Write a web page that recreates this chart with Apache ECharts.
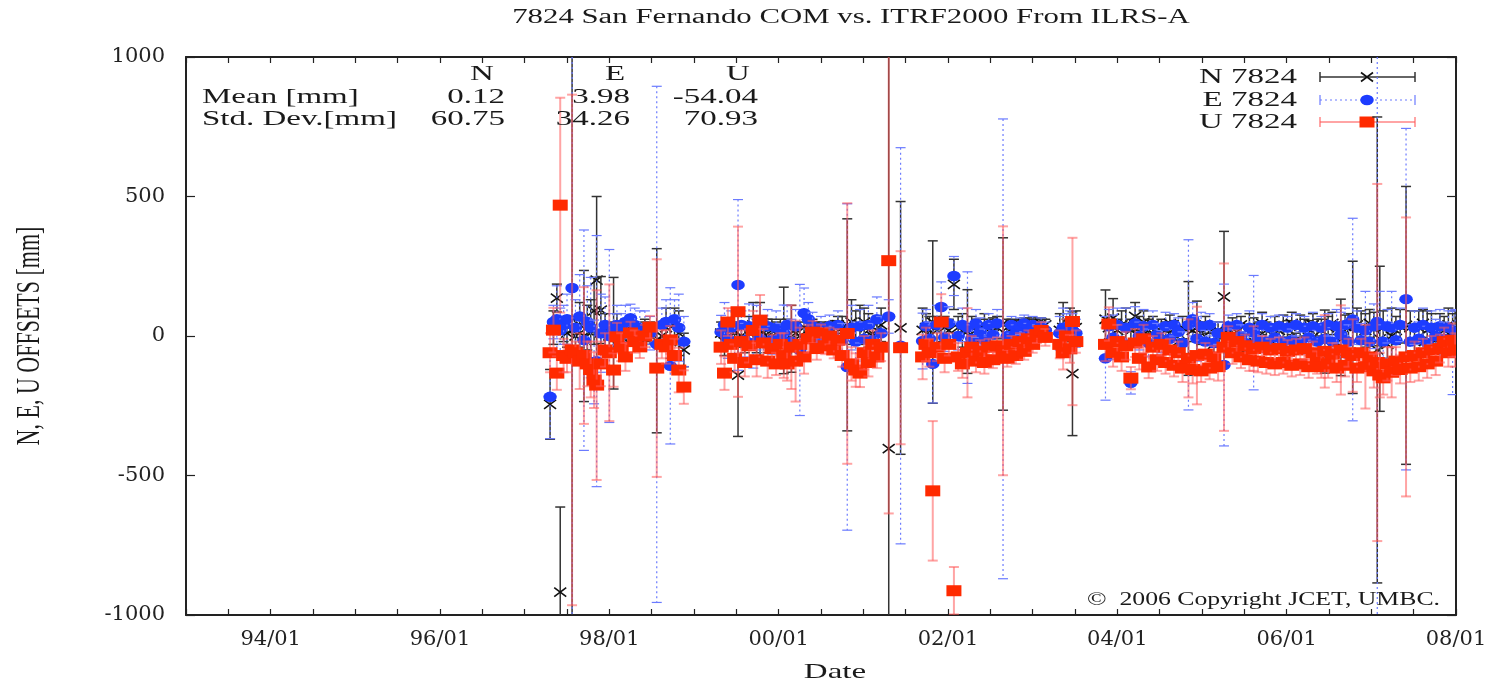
<!DOCTYPE html>
<html>
<head>
<meta charset="utf-8">
<title>7824 San Fernando COM vs. ITRF2000</title>
<script src="https://cdn.jsdelivr.net/npm/echarts@6/dist/echarts.min.js"></script>
<style>
  html, body { margin: 0; padding: 0; background: #ffffff; }
  #chart { width: 1495px; height: 683px; }
</style>
</head>
<body>
<div id="chart"></div>
<script>
// Epochs of the station solutions, in decimal years
const dates = [
  // 1997.3 - 1998.9
  1997.30, 1997.34, 1997.38, 1997.42, 1997.46, 1997.50, 1997.56, 1997.60, 1997.65, 1997.70,
  1997.74, 1997.78, 1997.82, 1997.85, 1997.90, 1997.95, 1998.00, 1998.05, 1998.09, 1998.14,
  1998.19, 1998.25, 1998.30, 1998.36, 1998.42, 1998.48, 1998.56, 1998.62, 1998.67, 1998.72,
  1998.77, 1998.82, 1998.88,
  // 1999.3 - 2001.4
  1999.32, 1999.36, 1999.40, 1999.44, 1999.48, 1999.52, 1999.56, 1999.60, 1999.65, 1999.70,
  1999.74, 1999.78, 1999.82, 1999.87, 1999.92, 1999.97, 2000.02, 2000.06, 2000.10, 2000.15,
  2000.20, 2000.25, 2000.30, 2000.35, 2000.40, 2000.45, 2000.50, 2000.55, 2000.60, 2000.65,
  2000.70, 2000.75, 2000.81, 2000.86, 2000.91, 2000.96, 2001.01, 2001.06, 2001.11, 2001.16,
  2001.21, 2001.30, 2001.44,
  // 2001.7 - 2003.2
  2001.70, 2001.74, 2001.78, 2001.82, 2001.87, 2001.92, 2001.96, 2002.01, 2002.07, 2002.12,
  2002.17, 2002.23, 2002.28, 2002.33, 2002.38, 2002.43, 2002.48, 2002.53, 2002.58, 2002.65,
  2002.70, 2002.75, 2002.80, 2002.85, 2002.90, 2002.95, 2003.00, 2003.05, 2003.10, 2003.15,
  // 2003.3 - 2003.5
  2003.32, 2003.36, 2003.40, 2003.44, 2003.47, 2003.51,
  // 2003.9 - 2008.0
  2003.86, 2003.90, 2003.95, 2004.00, 2004.05, 2004.10, 2004.16, 2004.21, 2004.26, 2004.31,
  2004.37, 2004.42, 2004.47, 2004.52, 2004.57, 2004.62, 2004.67, 2004.72, 2004.77, 2004.84,
  2004.89, 2004.94, 2004.99, 2005.04, 2005.09, 2005.14, 2005.19, 2005.26, 2005.31, 2005.36,
  2005.41, 2005.46, 2005.51, 2005.56, 2005.61, 2005.66, 2005.71, 2005.76, 2005.81, 2005.86,
  2005.91, 2005.96, 2006.01, 2006.06, 2006.11, 2006.16, 2006.21, 2006.26, 2006.31, 2006.36,
  2006.41, 2006.45, 2006.49, 2006.54, 2006.59, 2006.64, 2006.69, 2006.73, 2006.78, 2006.83,
  2006.88, 2006.93, 2006.98, 2007.03, 2007.07, 2007.10, 2007.14, 2007.19, 2007.24, 2007.29,
  2007.34, 2007.41, 2007.46, 2007.51, 2007.56, 2007.61, 2007.66, 2007.71, 2007.76, 2007.81,
  2007.86, 2007.91, 2007.96, 2007.99
];

// North offsets and their sigmas [mm]
const nVal = [
  -245, 30, 136, -918, 20, 10, 20, 0, 40, 0, 30, 10, 90, 200, 93, 20, 0, 10, 30, 0,
  20, 10, 0, 10, 20, 10, -17, 0, 30, -20, 40, 10, -50,
  10, -20, 0, 20, 10, -140, 0, -10, 10, 40, 0, 20, 10, 0, 20, 10, 20, 20, 0, -10,
  10, 0, 30, 20, 30, 20, 30, 25, 30, 35, 40, 30, 40, 50, 30, 40, 50, 20, 0, 20,
  40, -404, 29,
  20, 30, 10, 50, 20, 40, 30, 20, 185, 30, 20, 16, 30, 20, 30, 40, 30, 35, 30, 43,
  30, 40, 35, 40, 45, 40, 45, 40, 45, 40,
  20, 30, 10, 40, -135, 30,
  60, 30, 64, 20, 40, 40, 20, 70, 30, 50, 20, 40, -10, 30, 20, 45, 25, -20, 30, 27,
  20, 30, 10, 40, 15, -30, 20, 140, 10, 35, 15, 40, -25, 30, 25, 20, 45, 20, -15, 30,
  20, 35, 25, 45, -20, 35, 30, 25, 40, 30, 20, -20, 30, 45, -25, -5, 35, 30, 31, 40,
  30, 20, 45, 25, -50, -10, 30, -30, 0, 20, 35, 38, 30, -20, 30, 45, 20, 30, -15, 30,
  20, 40, 20, 30
];
const nErr = [
  125, 60, 50, 305, 40, 50, 1100, 60, 80, 235, 80, 120, 120, 300, 120, 60, 50, 200, 50, 40,
  40, 30, 30, 40, 40, 40, 330, 40, 70, 60, 60, 80, 60,
  40, 50, 40, 30, 40, 220, 40, 50, 60, 80, 60, 100, 50, 60, 40, 40, 40, 155, 60, 120,
  40, 50, 50, 40, 30, 30, 20, 20, 20, 20, 30, 40, 380, 80, 60, 70, 50, 60, 40, 50,
  60, 1500, 453,
  80, 50, 60, 291, 50, 60, 40, 40, 90, 40, 60, 150, 40, 40, 30, 40, 30, 30, 40, 309,
  30, 20, 20, 20, 20, 20, 20, 20, 20, 20,
  60, 90, 50, 60, 222, 60,
  105, 40, 70, 40, 50, 60, 40, 50, 40, 40, 40, 30, 30, 30, 30, 30, 30, 30, 40, 168,
  40, 95, 40, 30, 30, 40, 30, 235, 30, 30, 30, 30, 30, 50, 40, 30, 40, 30, 30, 40,
  30, 40, 30, 40, 30, 40, 30, 30, 40, 30, 40, 113, 40, 40, 50, 137, 40, 50, 237, 60,
  60, 60, 50, 60, 835, 260, 60, 50, 100, 50, 60, 498, 60, 50, 60, 50, 70, 50, 50, 50,
  50, 60, 60, 60
];

// East offsets and their sigmas [mm]
const eVal = [
  -218, 50, 60, 20, 40, 60, 172, 30, 70, -15, 50, 30, -93, -90, 10, 40, 0, 20, 40, 30,
  50, 64, 40, 20, 30, 10, -30, 40, 50, -107, 60, 30, -20,
  14, 40, -10, 30, -20, 183, 40, -15, 35, -25, 30, -10, -25, 35, -15, 30, -5, 11, 40, -20,
  35, -50, 82, 60, 35, -10, 30, 0, 35, -5, 40, -15, -111, 30, -20, 35, -10, 40, -15, 60,
  10, 70, -35,
  -18, 35, -10, -100, 40, 104, -5, 45, 215, 0, 40, 30, -10, 45, 15, -15, 40, 5, 45, -46,
  0, 40, 10, 35, 45, 15, 40, 10, 35, 20,
  10, 30, 20, 40, 20, 10,
  -80, 35, -5, 40, -20, 30, -168, 45, 0, 35, -25, 40, 5, -20, 35, -10, 40, 15, -25, 40,
  60, -10, 35, -20, 40, -25, 10, -104, 35, -15, 40, 0, -25, 30, 12, -15, 40, -20, 30, -5,
  35, -20, 30, -15, 40, -25, 30, -5, 35, -20, 30, -10, 40, -20, 35, 5, 40, -20, 59, 30,
  -15, 20, -20, 35, 50, 40, -20, 35, 30, -15, 40, 132, -20, 30, -10, 40, -25, 30, 0, 35,
  -10, 30, -60, 15
];
const eErr = [
  150, 60, 120, 80, 70, 90, 1200, 100, 150, 395, 130, 180, 150, 450, 140, 100, 310, 60, 70, 50,
  60, 50, 60, 70, 60, 60, 925, 60, 80, 280, 70, 120, 90,
  60, 80, 70, 60, 70, 306, 50, 60, 80, 90, 80, 80, 70, 60, 50, 60, 50, 100, 70, 80,
  60, 235, 90, 60, 50, 40, 40, 30, 40, 40, 50, 60, 585, 80, 70, 60, 60, 70, 60, 80,
  60, 60, 710,
  100, 60, 60, 140, 70, 90, 50, 60, 70, 50, 60, 200, 50, 50, 50, 40, 40, 40, 50, 824,
  40, 30, 30, 30, 30, 30, 30, 30, 30, 30,
  60, 70, 60, 50, 60, 50,
  150, 60, 80, 60, 60, 70, 40, 60, 50, 60, 50, 50, 40, 40, 50, 40, 40, 50, 40, 305,
  60, 80, 50, 40, 40, 40, 40, 290, 40, 40, 40, 40, 40, 60, 205, 40, 40, 40, 40, 40,
  40, 40, 40, 40, 40, 40, 40, 40, 50, 40, 40, 50, 40, 50, 60, 80, 60, 60, 363, 60,
  60, 140, 60, 80, 1200, 120, 60, 60, 130, 60, 60, 612, 60, 60, 60, 60, 60, 60, 60, 60,
  60, 60, 150, 80
];

// Up offsets and their sigmas [mm]
const uVal = [
  -60, 21, -133, 469, -70, -80, -50, -60, -90, -70, -100, -120, -158, -176, -100, -50, -60, -122, -3, -40,
  -75, 11, -20, -39, 0, 32, -115, -30, -39, -14, -70, -122, -183,
  -40, -133, 50, -30, -80, 87, -20, -95, -35, 20, -85, 57, -25, -90, -45, -100, -30, -70, -100, -40,
  -90, -30, -75, -10, 14, -45, 11, -35, 0, -50, -15, -70, 9, -100, -122, -133, -60, -95, -30, -75,
  -40, 270, -42,
  -75, -30, -60, -555, -40, 50, -80, -30, -913, -75, -100, -60, -40, -90, -55, -95, -40, -85, -35, -53,
  -80, -30, -70, -20, -55, -10, -30, 5, 20, -5,
  -30, -60, 0, -46, 52, -20,
  -30, 43, -60, -20, -75, -35, -151, -25, -80, -10, -111, -40, -85, -30, -95, -50, -105, -60, -115, -80,
  -120, -70, -125, -65, -115, -75, -110, -40, -5, -60, -20, -75, -35, -85, -45, -90, -40, -95, -50, -100,
  -45, -95, -55, -105, -50, -100, -45, -110, -60, -95, -110, -55, -100, -65, -115, -50, -105, -60, -70, -115,
  -60, -110, -75, -125, -95, -140, -150, -100, -130, -90, -120, -75, -115, -70, -110, -60, -100, -50, -90, -45,
  -20, -60, -15, -50
];
const uErr = [
  70, 80, 60, 385, 60, 50, 915, 40, 100, 245, 80, 100, 100, 340, 80, 60, 245, 60, 50, 50,
  50, 40, 40, 40, 40, 40, 390, 50, 60, 50, 60, 80, 60,
  60, 60, 50, 40, 50, 305, 40, 50, 60, 70, 60, 90, 50, 60, 50, 40, 40, 80, 60, 150,
  145, 60, 60, 50, 40, 40, 30, 30, 30, 30, 40, 40, 467, 60, 60, 50, 60, 50, 50, 40,
  50, 906, 346,
  80, 60, 50, 250, 50, 100, 50, 40, 85, 50, 50, 160, 40, 40, 40, 40, 30, 30, 30, 446,
  30, 30, 30, 30, 30, 30, 30, 30, 30, 30,
  50, 60, 60, 50, 300, 40,
  60, 60, 50, 60, 50, 50, 40, 50, 40, 50, 40, 40, 40, 40, 40, 40, 40, 40, 50, 140,
  50, 175, 40, 40, 40, 40, 50, 300, 40, 40, 40, 40, 40, 40, 80, 40, 40, 40, 40, 40,
  40, 40, 40, 40, 40, 40, 40, 40, 40, 40, 40, 130, 50, 40, 50, 160, 40, 50, 130, 50,
  50, 150, 50, 60, 640, 80, 60, 60, 90, 50, 50, 500, 50, 50, 50, 50, 50, 50, 50, 50,
  50, 50, 60, 60
];

// Summary statistics block
const statHeads = ['N', 'E', 'U'];
const meanVals = ['0.12', '3.98', '-54.04'];
const stdVals = ['60.75', '34.26', '70.93'];
const legendNames = ['N 7824', 'E 7824', 'U 7824'];

// Date tick labels (year/month)
const xLabelYears = [1994, 1996, 1998, 2000, 2002, 2004, 2006, 2008];
const xLabels = ['94/01', '96/01', '98/01', '00/01', '02/01', '04/01', '06/01', '08/01'];

const SERIF = '"Liberation Serif", "DejaVu Serif", serif';
const INK = '#1a1a1a';
const CAP = 5;

function crossMark(x, y) {
  const s = { stroke: '#111111', lineWidth: 1.6 };
  return {
    type: 'group',
    children: [
      { type: 'line', shape: { x1: x - 6, y1: y - 4.5, x2: x + 6, y2: y + 4.5 }, style: Object.assign({}, s) },
      { type: 'line', shape: { x1: x - 6, y1: y + 4.5, x2: x + 6, y2: y - 4.5 }, style: Object.assign({}, s) }
    ]
  };
}
function dotMark(x, y) {
  return { type: 'circle', x: x, y: y, scaleX: 1.3, shape: { cx: 0, cy: 0, r: 5.2 }, style: { fill: '#1d3cff' } };
}
function squareMark(x, y) {
  return { type: 'rect', shape: { x: x - 7.5, y: y - 5.5, width: 15, height: 11 }, style: { fill: '#ff2a00' } };
}

const looks = [
  { bar: { stroke: '#333333', lineWidth: 1.5 }, mark: crossMark },
  { bar: { stroke: '#6b7bff', lineWidth: 1.2, lineDash: [2, 3] }, mark: dotMark },
  { bar: { stroke: 'rgba(255,90,90,0.55)', lineWidth: 2 }, mark: squareMark }
];

function errorSeries(name, vals, errs, look, z) {
  return {
    type: 'custom',
    name: name,
    z: z,
    clip: true,
    data: dates.map((d, i) => [d, vals[i], errs[i]]),
    encode: { x: 0, y: 1 },
    renderItem: function (params, api) {
      const d = api.value(0), v = api.value(1), e = api.value(2);
      const cs = params.coordSys;
      const c = api.coord([d, v]);
      const hi = api.coord([d, v + e])[1];
      const lo = api.coord([d, v - e])[1];
      const yTop = cs.y, yBot = cs.y + cs.height;
      const top = Math.max(hi, yTop), bot = Math.min(lo, yBot);
      const kids = [];
      if (bot > top) {
        kids.push({ type: 'line', shape: { x1: c[0], y1: top, x2: c[0], y2: bot }, style: Object.assign({}, look.bar) });
      }
      if (hi >= yTop && hi <= yBot) {
        kids.push({ type: 'line', shape: { x1: c[0] - CAP, y1: hi, x2: c[0] + CAP, y2: hi }, style: Object.assign({}, look.bar, { lineDash: null }) });
      }
      if (lo <= yBot && lo >= yTop) {
        kids.push({ type: 'line', shape: { x1: c[0] - CAP, y1: lo, x2: c[0] + CAP, y2: lo }, style: Object.assign({}, look.bar, { lineDash: null }) });
      }
      if (c[1] >= yTop && c[1] <= yBot) {
        kids.push(look.mark(c[0], c[1]));
      }
      return { type: 'group', children: kids };
    }
  };
}

function label(text, x, y, opts) {
  const o = opts || {};
  return {
    type: 'text', x: x, y: y,
    scaleX: o.scaleX != null ? o.scaleX : 1.5,
    scaleY: o.scaleY != null ? o.scaleY : 1,
    rotation: o.rotation || 0,
    z: 20,
    style: {
      text: text, fill: INK,
      font: (o.size || 22) + 'px ' + SERIF,
      align: o.align || 'left', verticalAlign: 'middle',
      textAlign: o.align || 'left', textVerticalAlign: 'middle'
    }
  };
}

// Title and statistics block
const graphics = [];
graphics.push(label('7824 San Fernando COM vs. ITRF2000 From ILRS-A', 851, 18, { align: 'center', size: 20, scaleX: 1.54 }));
graphics.push(label('Mean [mm]', 202, 97));
graphics.push(label('Std. Dev.[mm]', 202, 119));
const headX = [482, 615, 738];
const colRight = [505, 630, 758];
statHeads.forEach((h, i) => {
  graphics.push(label(h, headX[i], 74, { align: 'center' }));
  graphics.push(label(meanVals[i], colRight[i], 97, { align: 'right' }));
  graphics.push(label(stdVals[i], colRight[i], 119, { align: 'right' }));
});

// Key with error-bar samples
const keyY = [77, 100, 122];
legendNames.forEach((nm, i) => {
  const y = keyY[i], lk = looks[i];
  graphics.push(label(nm, 1297, y, { align: 'right' }));
  graphics.push({
    type: 'group', z: 20,
    children: [
      { type: 'line', shape: { x1: 1320, y1: y, x2: 1415, y2: y }, style: Object.assign({}, lk.bar) },
      { type: 'line', shape: { x1: 1320, y1: y - CAP, x2: 1320, y2: y + CAP }, style: Object.assign({}, lk.bar, { lineDash: null }) },
      { type: 'line', shape: { x1: 1415, y1: y - CAP, x2: 1415, y2: y + CAP }, style: Object.assign({}, lk.bar, { lineDash: null }) },
      lk.mark(1367, y)
    ]
  });
});

graphics.push(label('\u00a9  2006 Copyright JCET, UMBC.', 1440, 600, { align: 'right', size: 18, scaleX: 1.43 }));
graphics.push(label('Date', 835, 672, { align: 'center' }));
graphics.push(label('N, E, U OFFSETS [mm]', 30, 336, { align: 'center', rotation: Math.PI / 2, scaleX: 1, scaleY: 1.5 }));

function xFmt(v) {
  const y = Math.round(v);
  if (Math.abs(v - y) > 1e-6) return '';
  const k = xLabelYears.indexOf(y);
  return k >= 0 ? xLabels[k] : '';
}

const axisLine = { show: true, onZero: false, lineStyle: { color: '#222222', width: 2 } };
const tickStyle = { color: '#222222', width: 1.2 };
const tickFont = { fontFamily: 'DejaVu Serif', fontSize: 21, color: '#222222' };

const chart = echarts.init(document.getElementById('chart'), null, { renderer: 'canvas' });
chart.setOption({
  animation: false,
  backgroundColor: '#ffffff',
  grid: { left: 186, top: 57, width: 1270, height: 558, show: false },
  xAxis: [
    {
      type: 'value', min: 1993, max: 2008, interval: 0.5, position: 'bottom',
      axisLine: axisLine,
      axisTick: { show: true, inside: true, length: 6, lineStyle: tickStyle },
      axisLabel: Object.assign({ formatter: xFmt, margin: 14, showMinLabel: true, showMaxLabel: true }, tickFont),
      splitLine: { show: false }
    },
    {
      type: 'value', min: 1993, max: 2008, interval: 0.5, position: 'top',
      axisLine: axisLine,
      axisTick: { show: true, inside: true, length: 6, lineStyle: tickStyle },
      axisLabel: { show: false },
      splitLine: { show: false }
    }
  ],
  yAxis: [
    {
      type: 'value', min: -1000, max: 1000, interval: 500, position: 'left',
      axisLine: axisLine,
      axisTick: { show: true, inside: true, length: 9, lineStyle: tickStyle },
      axisLabel: Object.assign({ margin: 21, formatter: v => String(v) }, tickFont),
      splitLine: { show: false }
    },
    {
      type: 'value', min: -1000, max: 1000, interval: 500, position: 'right',
      axisLine: axisLine,
      axisTick: { show: true, inside: true, length: 9, lineStyle: tickStyle },
      axisLabel: { show: false },
      splitLine: { show: false }
    }
  ],
  series: [
    errorSeries('N 7824', nVal, nErr, looks[0], 2),
    errorSeries('E 7824', eVal, eErr, looks[1], 3),
    errorSeries('U 7824', uVal, uErr, looks[2], 4)
  ],
  graphic: graphics
});
</script>
</body>
</html>
